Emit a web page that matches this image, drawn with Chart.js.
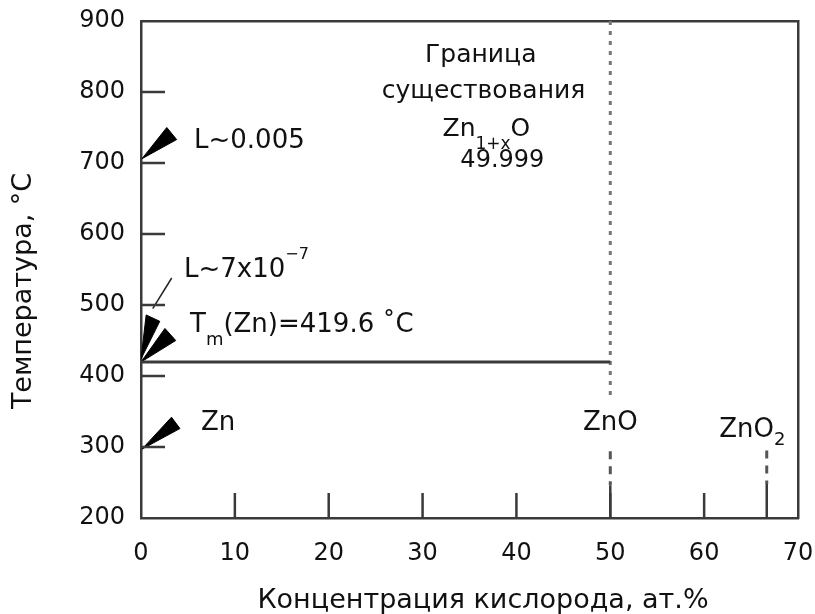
<!DOCTYPE html>
<html>
<head>
<meta charset="utf-8">
<script src="https://cdn.jsdelivr.net/npm/chart.js@4.4.0/dist/chart.umd.min.js"></script>
<style>
    html, body { margin: 0; padding: 0; background: #fff; }
    #wrap { width: 815px; height: 614px; }
</style>
</head>
<body>
<div id="wrap"><canvas id="phaseChart"></canvas></div>
<script>
// Axis ticks
const xTicks = [0, 10, 20, 30, 40, 50, 60, 70];
const yTicks = [200, 300, 400, 500, 600, 700, 800, 900];

// Zn melting line, x = at.% O, y = °C
const meltX = [0, 50];
const meltY = [419.6, 419.6];

// ZnO boundary (x = 50)
const znoX = [50, 50];
const znoDotY = [900, 372];
const znoDashY = [294, 246];
const znoSolidY = [246, 200];

// ZnO2 (x = 66.67)
const zno2X = [66.67, 66.67];
const zno2DashY = [295, 248];
const zno2SolidY = [248, 200];

// Liquid wedges at the Zn side
const wedgeHighX = [0.1, 2.75, 3.8, 0.1];
const wedgeHighY = [706, 750, 733, 706];
const wedgeMidUpX = [0, 0.55, 2.0, 0];
const wedgeMidUpY = [424, 486, 477, 424];
const wedgeMidLoX = [0, 2.55, 3.7, 0];
const wedgeMidLoY = [419.6, 467, 450, 419.6];
const wedgeZnX = [0.1, 3.25, 4.15, 0.1];
const wedgeZnY = [297, 342, 326, 297];
const leaderX = [1.25, 3.27];
const leaderY = [495, 538];

const FONT = "'DejaVu Sans', sans-serif";
const INK = '#111';

function pts(xs, ys) {
    return xs.map((x, i) => ({ x: x, y: ys[i] }));
}

function lineSet(xs, ys, color, width, dash) {
    return {
        data: pts(xs, ys),
        showLine: true,
        borderColor: color,
        borderWidth: width,
        borderDash: dash || [],
        pointRadius: 0,
        fill: false
    };
}

function wedgeSet(xs, ys) {
    return {
        data: pts(xs, ys),
        showLine: true,
        borderColor: '#000',
        backgroundColor: '#000',
        borderWidth: 1,
        pointRadius: 0,
        fill: 'shape'
    };
}

// Text notes: x/y in data units (baseline), runs = [text, size, dy]
const notes = [
    { x: 5.65, y: 721, align: 'left', runs: [['L~0.005', 26, 0]] },
    { x: 4.58, y: 539, align: 'left', runs: [['L~7x10', 26, 0], ['\u22127', 16, -18]] },
    { x: 5.22, y: 462, align: 'left', runs: [['T', 26, 0], ['m', 18, 13], ['(Zn)=419.6 \u02daC', 26, 0]] },
    { x: 6.39, y: 324, align: 'left', runs: [['Zn', 26, 0]] },
    { x: 50, y: 324, align: 'center', runs: [['ZnO', 26, 0]] },
    { x: 61.6, y: 314, align: 'left', runs: [['ZnO', 26, 0], ['2', 18, 8]] },
    { x: 36.2, y: 842, align: 'center', runs: [['Граница', 25, 0]] },
    { x: 36.5, y: 791, align: 'center', runs: [['существования', 25, 0]] },
    { x: 36.8, y: 738, align: 'center', runs: [['Zn', 25, 0], ['1+x', 17, 13], ['O', 25, 0]] },
    { x: 38.5, y: 694, align: 'center', runs: [['49.999', 24, 0]] }
];

// Inward tick marks on the frame
const frameTicks = {
    id: 'frameTicks',
    afterDatasetsDraw(chart) {
        const { ctx, chartArea, scales } = chart;
        ctx.save();
        ctx.strokeStyle = '#3a3a3a';
        ctx.lineWidth = 2.5;
        ctx.beginPath();
        xTicks.slice(1, -1).forEach(v => {
            const px = scales.x.getPixelForValue(v);
            ctx.moveTo(px, chartArea.bottom);
            ctx.lineTo(px, chartArea.bottom - 25);
        });
        yTicks.slice(1, -1).forEach(v => {
            const py = scales.y.getPixelForValue(v);
            ctx.moveTo(chartArea.left, py);
            ctx.lineTo(chartArea.left + 24, py);
        });
        ctx.stroke();
        ctx.restore();
    }
};

const noteText = {
    id: 'noteText',
    afterDraw(chart) {
        const { ctx, scales } = chart;
        ctx.save();
        ctx.fillStyle = INK;
        ctx.textBaseline = 'alphabetic';
        ctx.textAlign = 'left';
        notes.forEach(n => {
            let total = 0;
            n.runs.forEach(r => {
                ctx.font = r[1] + 'px ' + FONT;
                total += ctx.measureText(r[0]).width;
            });
            let cx = scales.x.getPixelForValue(n.x);
            const cy = scales.y.getPixelForValue(n.y);
            if (n.align === 'center') cx -= total / 2;
            n.runs.forEach(r => {
                ctx.font = r[1] + 'px ' + FONT;
                ctx.fillText(r[0], cx, cy + r[2]);
                cx += ctx.measureText(r[0]).width;
            });
        });
        ctx.restore();
    }
};

const frameBorder = { display: true, color: '#3a3a3a', width: 2.5 };

new Chart(document.getElementById('phaseChart'), {
    type: 'scatter',
    data: {
        datasets: [
            lineSet(meltX, meltY, '#3a3a3a', 3),
            lineSet(znoX, znoDotY, '#777', 3, [4, 6]),
            lineSet(znoX, znoDashY, '#555', 3, [8, 7]),
            lineSet(znoX, znoSolidY, '#3a3a3a', 2.5),
            lineSet(zno2X, zno2DashY, '#555', 3, [8, 7]),
            lineSet(zno2X, zno2SolidY, '#3a3a3a', 2.5),
            wedgeSet(wedgeHighX, wedgeHighY),
            wedgeSet(wedgeMidUpX, wedgeMidUpY),
            wedgeSet(wedgeMidLoX, wedgeMidLoY),
            wedgeSet(wedgeZnX, wedgeZnY),
            lineSet(leaderX, leaderY, '#222', 1.5)
        ]
    },
    options: {
        responsive: true,
        maintainAspectRatio: false,
        animation: false,
        layout: {
            padding: { top: 21, right: 17, left: 0, bottom: 0 }
        },
        plugins: {
            legend: { display: false },
            tooltip: { enabled: false }
        },
        scales: {
            x: {
                type: 'linear',
                position: 'bottom',
                min: 0,
                max: 70,
                afterBuildTicks: s => { s.ticks = xTicks.map(v => ({ value: v })); },
                afterFit: s => { s.height = 96; },
                // invisible outer tick keeps labels away from the frame
                grid: { drawOnChartArea: false, drawTicks: true, tickLength: 24, tickColor: 'rgba(0,0,0,0)' },
                border: frameBorder,
                ticks: {
                    padding: 0,
                    color: INK,
                    font: { family: FONT, size: 24, lineHeight: 1 }
                },
                title: {
                    display: true,
                    text: '\u2002\u2002Концентрация кислорода, ат.%',
                    color: INK,
                    font: { family: FONT, size: 27, lineHeight: 1 },
                    padding: { top: 0, bottom: 0 }
                }
            },
            y: {
                type: 'linear',
                position: 'left',
                min: 200,
                max: 900,
                afterBuildTicks: s => { s.ticks = yTicks.map(v => ({ value: v })); },
                afterFit: s => { s.width = 141; },
                grid: { drawOnChartArea: false, drawTicks: true, tickLength: 16, tickColor: 'rgba(0,0,0,0)' },
                border: frameBorder,
                ticks: {
                    padding: 0,
                    color: INK,
                    font: { family: FONT, size: 24, lineHeight: 1 }
                },
                title: {
                    display: true,
                    text: 'Температура, °C     ',
                    color: INK,
                    font: { family: FONT, size: 27, lineHeight: 1 },
                    padding: { top: 10, bottom: 0 }
                }
            },
            xTop: {
                type: 'linear',
                position: 'top',
                min: 0,
                max: 70,
                afterFit: s => { s.height = 0; },
                grid: { drawOnChartArea: false, drawTicks: false },
                border: frameBorder,
                ticks: { display: false }
            },
            yRight: {
                type: 'linear',
                position: 'right',
                min: 200,
                max: 900,
                afterFit: s => { s.width = 0; },
                grid: { drawOnChartArea: false, drawTicks: false },
                border: frameBorder,
                ticks: { display: false }
            }
        }
    },
    plugins: [frameTicks, noteText]
});
</script>
</body>
</html>
